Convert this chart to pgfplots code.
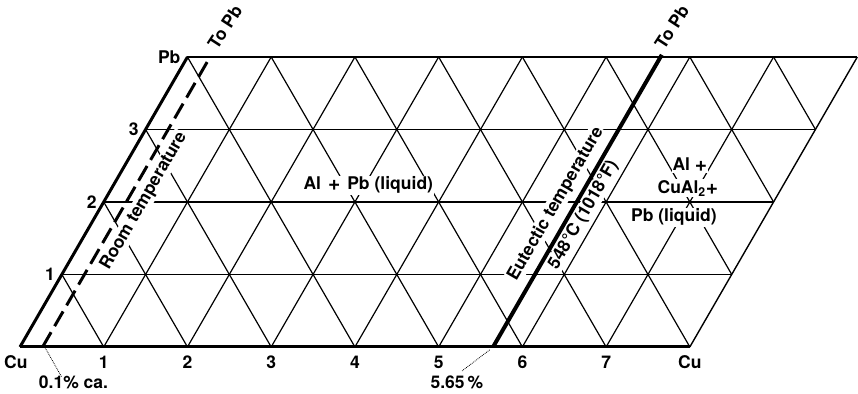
\documentclass[border=0pt]{standalone}
\usepackage{pgfplots}
\pgfplotsset{compat=1.18}
\usepackage{fontspec}
\setmainfont{texgyreheros-bold.otf}
\newcommand{\bplus}{\raisebox{-1pt}{\fontsize{21}{21}\selectfont +}}
\begin{document}
\begin{tikzpicture}[lbl/.style={font=\fontsize{17.5}{19}\selectfont, inner sep=1pt}]
\begin{axis}[
  scale only axis, width=858pt, height=394pt,
  xmin=-0.2388, xmax=10.006, ymin=-0.648, ymax=4.786,
  hide axis, clip=false,
]
\path (rel axis cs:0,0) rectangle (rel axis cs:1,1);
% horizontal rows
\addplot[black, line width=1.2pt] coordinates {(0.5,1) (8.5,1)};
\addplot[black, line width=1.2pt] coordinates {(1,2) (9,2)};
\addplot[black, line width=1.2pt] coordinates {(1.5,3) (9.5,3)};
\addplot[black, line width=1.3pt] coordinates {(2,4) (10,4)};
% lines parallel to the Cu-Pb side
\addplot[black, line width=1.2pt] coordinates {(1,0) (3,4)};
\addplot[black, line width=1.2pt] coordinates {(2,0) (4,4)};
\addplot[black, line width=1.2pt] coordinates {(3,0) (5,4)};
\addplot[black, line width=1.2pt] coordinates {(4,0) (6,4)};
\addplot[black, line width=1.2pt] coordinates {(5,0) (7,4)};
\addplot[black, line width=1.2pt] coordinates {(6,0) (8,4)};
\addplot[black, line width=1.2pt] coordinates {(7,0) (9,4)};
\addplot[black, line width=1.4pt] coordinates {(8,0) (10,4)};
% lines of the other slope
\addplot[black, line width=1.2pt] coordinates {(1,0) (0.5,1)};
\addplot[black, line width=1.2pt] coordinates {(2,0) (1,2)};
\addplot[black, line width=1.2pt] coordinates {(3,0) (1.5,3)};
\addplot[black, line width=1.2pt] coordinates {(4,0) (2,4)};
\addplot[black, line width=1.2pt] coordinates {(5,0) (3,4)};
\addplot[black, line width=1.2pt] coordinates {(6,0) (4,4)};
\addplot[black, line width=1.2pt] coordinates {(7,0) (5,4)};
\addplot[black, line width=1.2pt] coordinates {(8,0) (6,4)};
\addplot[black, line width=1.2pt] coordinates {(8.5,1) (7,4)};
\addplot[black, line width=1.2pt] coordinates {(9,2) (8,4)};
\addplot[black, line width=1.2pt] coordinates {(9.5,3) (9,4)};
% text over grid
\node[lbl, fill=white] at (axis cs:4.16,2.23) {Al\hspace{7pt}\bplus\hspace{7pt}Pb\hspace{5pt}(liquid)};
\node[lbl, fill=white, rotate=60] at (axis cs:1.48,2.014) {Room temperature};
\node[lbl, fill=white, rotate=60] at (axis cs:6.40,1.972) {Eutectic temperature};
\node[lbl, fill=white, rotate=60] at (axis cs:6.73,1.82) {548°C (1018°F)};
\node[lbl, fill=white] at (axis cs:8.0,2.51) {Al \bplus};
\node[lbl, fill=white] at (axis cs:7.976,2.19) {CuAl\textsubscript{2}\bplus};
\node[lbl, fill=white] at (axis cs:7.81,1.79) {Pb (liquid)};
% heavy lines
\addplot[black, line width=3pt] coordinates {(0,0) (8,0)};
\addplot[black, line width=3pt] coordinates {(0,0) (2,4)};
\addplot[black, line width=4pt] coordinates {(5.65,0) (7.665,4.03)};
\addplot[black, line width=3pt, dash pattern=on 17pt off 7pt] coordinates {(0.27,0) (2.27,4)};
% leaders
\addplot[black, line width=0.8pt, densely dotted] coordinates {(0.30,-0.01) (0.50,-0.42)};
\addplot[black, line width=0.8pt, densely dotted] coordinates {(5.61,-0.04) (5.28,-0.33)};
% labels
\node[lbl] at (axis cs:1,-0.21) {1};
\node[lbl] at (axis cs:2,-0.21) {2};
\node[lbl] at (axis cs:3,-0.21) {3};
\node[lbl] at (axis cs:4,-0.21) {4};
\node[lbl] at (axis cs:5,-0.21) {5};
\node[lbl] at (axis cs:6,-0.21) {6};
\node[lbl] at (axis cs:7,-0.21) {7};
\node[lbl] at (axis cs:-0.05,-0.21) {Cu};
\node[lbl] at (axis cs:8,-0.21) {Cu};
\node[lbl, anchor=east] at (axis cs:0.43,1) {1};
\node[lbl, anchor=east] at (axis cs:0.93,2) {2};
\node[lbl, anchor=east] at (axis cs:1.43,3) {3};
\node[lbl, anchor=east] at (axis cs:1.93,4) {Pb};
\node[lbl] at (axis cs:0.639,-0.49) {0.1\% ca.};
\node[lbl] at (axis cs:5.218,-0.49) {5.65\,\%};
\node[lbl, rotate=57] at (axis cs:2.448,4.414) {To Pb};
\node[lbl, rotate=57] at (axis cs:7.785,4.414) {To Pb};
\end{axis}
\end{tikzpicture}
\end{document}
